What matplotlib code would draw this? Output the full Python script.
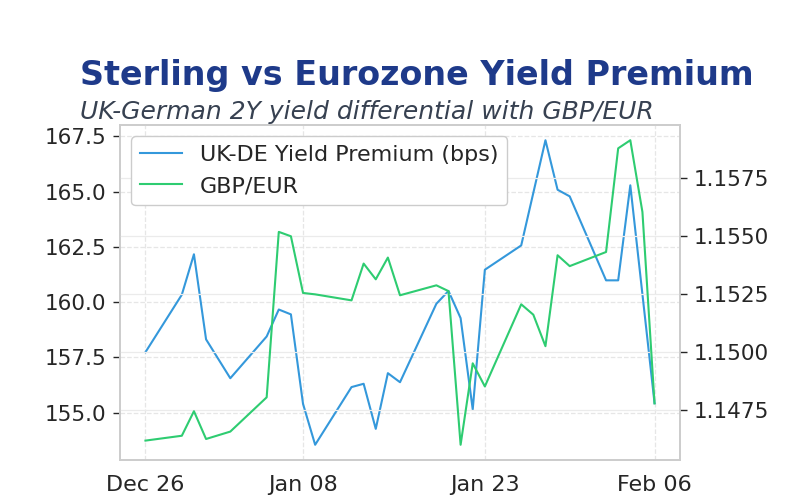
import matplotlib
matplotlib.use("Agg")
import matplotlib.pyplot as plt
import matplotlib.dates as mdates
import pandas as pd

# business days, Dec 26 to Feb 06 (Jan 1 closed)
dates = pd.to_datetime([
    "2025-12-26", "2025-12-29", "2025-12-30", "2025-12-31", "2026-01-02",
    "2026-01-05", "2026-01-06", "2026-01-07", "2026-01-08", "2026-01-09",
    "2026-01-12", "2026-01-13", "2026-01-14", "2026-01-15", "2026-01-16",
    "2026-01-19", "2026-01-20", "2026-01-21", "2026-01-22", "2026-01-23",
    "2026-01-26", "2026-01-27", "2026-01-28", "2026-01-29", "2026-01-30",
    "2026-02-02", "2026-02-03", "2026-02-04", "2026-02-05", "2026-02-06",
])
premium = [157.73, 160.33, 162.16, 158.31, 156.55,
           158.44, 159.66, 159.44, 155.39, 153.54,
           156.15, 156.30, 154.26, 156.78, 156.37,
           159.92, 160.50, 159.27, 155.14, 161.46,
           162.56, 164.94, 167.32, 165.08, 164.78,
           160.98, 160.98, 165.28, 160.35, 155.42]
gbpeur = [1.14616, 1.14637, 1.14743, 1.14623, 1.14655,
          1.14803, 1.15518, 1.15499, 1.15254, 1.15248,
          1.15222, 1.15381, 1.15313, 1.15407, 1.15244,
          1.15287, 1.15262, 1.14598, 1.14950, 1.14850,
          1.15205, 1.15160, 1.15024, 1.15417, 1.15370,
          1.15431, 1.15879, 1.15914, 1.15604, 1.14777]
tick_dates = pd.to_datetime(["2025-12-26", "2026-01-08", "2026-01-23", "2026-02-06"])

fig = plt.figure(figsize=(8, 5), dpi=100)
ax1 = fig.add_axes([0.15, 0.08, 0.70, 0.67])
ax2 = ax1.twinx()

l1, = ax1.plot(dates, premium, color="#3498db", lw=1.5, label="UK-DE Yield Premium (bps)")
l2, = ax2.plot(dates, gbpeur, color="#2ecc71", lw=1.5, label="GBP/EUR")

ax1.grid(True, linestyle="--", color="#e6e6e6", lw=0.9)
ax2.grid(True, axis="y", linestyle="-", color="#ebebeb", lw=0.9)
ax2.set_axisbelow(True)

ax1.set_xticks(tick_dates)
ax1.xaxis.set_major_formatter(mdates.DateFormatter("%b %d"))

for ax in (ax1, ax2):
    for s in ax.spines.values():
        s.set_color("#cccccc")
        s.set_linewidth(1.2)
    ax.tick_params(labelsize=15.5, colors="#262626", length=5, width=1, pad=5)
ax1.tick_params(axis="x", length=0, pad=11, labelsize=16)

leg = ax2.legend(handles=[l1, l2], loc="upper left", fontsize=16,
                 frameon=True, edgecolor="#cccccc", framealpha=1, fancybox=True,
                 handlelength=1.9)
for t in leg.get_texts():
    t.set_color("#262626")

fig.text(0.1, 0.848, "Sterling vs Eurozone Yield Premium", fontsize=24,
         fontweight="bold", color="#1e3a8a", ha="left", va="center")
fig.text(0.1, 0.777, "UK-German 2Y yield differential with GBP/EUR", fontsize=18,
         style="italic", color="#374151", ha="left", va="center")

fig.savefig("out.png", dpi=100)
